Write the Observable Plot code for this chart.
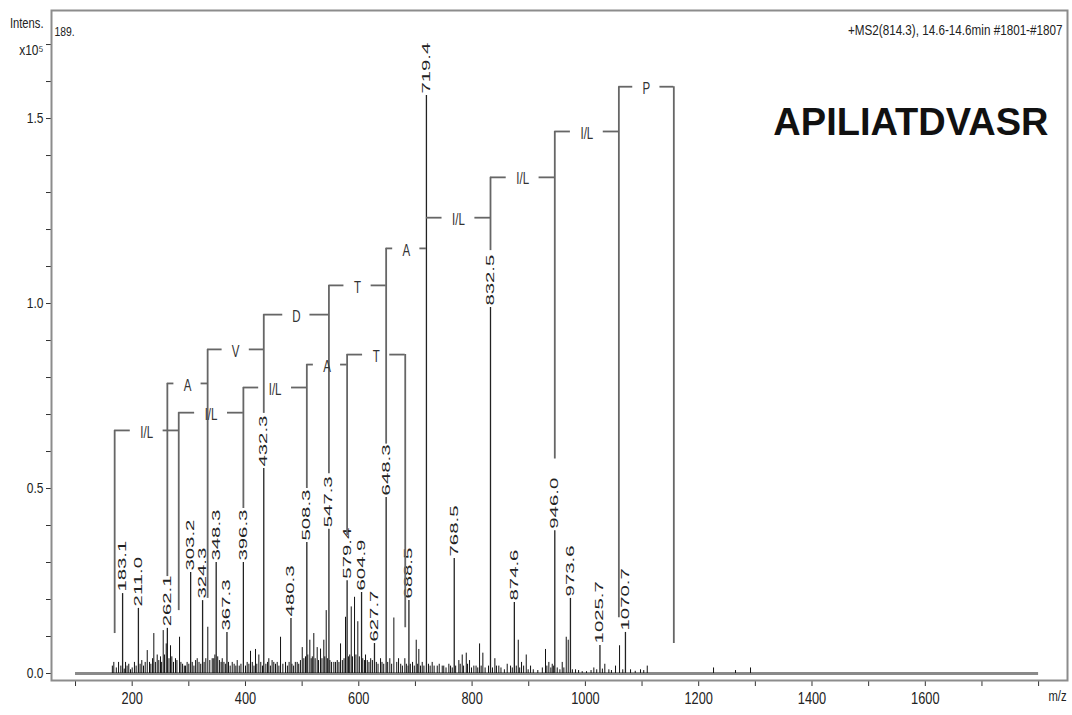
<!DOCTYPE html>
<html>
<head>
<meta charset="utf-8">
<script src="https://cdn.jsdelivr.net/npm/d3@7"></script>
<script src="https://cdn.jsdelivr.net/npm/@observablehq/plot@0.6"></script>
<style>
  html, body { margin: 0; padding: 0; background: #fff; }
  #chart svg { display: block; }
</style>
</head>
<body>
<div id="chart"></div>
<script>
// ---------- data (intensity in units of 10^5) ----------
const labeledMz  = [183.1, 211.0, 262.1, 303.2, 324.3, 348.3, 367.3, 396.3, 432.3, 480.3, 508.3, 547.3, 579.4, 604.9, 627.7, 648.3, 688.5, 719.4, 768.5, 832.5, 874.6, 946.0, 973.6, 1025.7, 1070.7];
const labeledInt = [0.216, 0.176, 0.122, 0.273, 0.197, 0.300, 0.111, 0.300, 0.554, 0.149, 0.354, 0.390, 0.251, 0.219, 0.081, 0.476, 0.197, 1.562, 0.311, 0.989, 0.192, 0.386, 0.203, 0.076, 0.111];

// secondary (unlabelled) peaks: [m/z, intensity]
const minorPeaks = [
  [167.6,0.030],[188.3,0.030],[197.1,0.010],[226.6,0.062],[230.6,0.030],[238.2,0.108],[244.2,0.050],[254.8,0.116],
  [260.1,0.080],[267.7,0.075],[276.5,0.040],[283.6,0.098],[294.2,0.020],[314.8,0.040],[333.5,0.125],[341.3,0.040],
  [359.0,0.040],[376.6,0.030],[385.4,0.035],[408.9,0.060],[417.7,0.065],[423.6,0.050],[441.2,0.040],[450.0,0.030],
  [461.9,0.098],[470.7,0.030],[491.3,0.030],[500.2,0.070],[513.6,0.090],[520.6,0.108],[526.6,0.070],[532.5,0.066],
  [538.3,0.090],[542.5,0.170],[556.0,0.030],[567.8,0.080],[576.6,0.152],[586.7,0.180],[592.5,0.206],[598.3,0.140],
  [611.9,0.050],[638.4,0.040],[654.8,0.040],[661.9,0.150],[670.2,0.040],[681.3,0.040],[694.9,0.030],[701.4,0.090],
  [706.0,0.065],[712.0,0.030],[729.6,0.030],[738.5,0.020],[747.3,0.020],[759.0,0.025],[776.6,0.035],[782.6,0.050],
  [789.7,0.055],[795.5,0.035],[803.1,0.020],[813.2,0.080],[819.0,0.055],[840.2,0.040],[847.2,0.020],[862.0,0.025],
  [867.9,0.020],[881.5,0.090],[887.3,0.030],[895.6,0.050],[903.2,0.020],[929.6,0.065],[935.5,0.030],[941.5,0.025],
  [950.3,0.015],[959.1,0.030],[966.2,0.098],[969.7,0.090],[982.6,0.010],[994.4,0.005],[1014.9,0.015],[1034.3,0.025],
  [1041.4,0.010],[1053.2,0.020],[1060.3,0.075],[1079.7,0.010],[1097.3,0.010],[1109.2,0.020],[1226.2,0.015],[1265.0,0.008],
  [1291.5,0.015]
];

// low-level chemical noise ("grass"): [m/z, intensity]
const grassPeaks = [
  [165,0.020],[172,0.015],[176,0.030],[180,0.020],[186,0.012],[191,0.020],[194,0.025],[200,0.015],[204,0.030],[207,0.020],
  [214,0.025],[217,0.035],[220,0.020],[223,0.030],[233,0.025],[236,0.040],[241,0.030],[247,0.035],[250,0.045],[252,0.030],
  [257,0.050],[265,0.040],[270,0.045],[273,0.030],[279,0.035],[286,0.030],[289,0.025],[292,0.020],[297,0.030],[300,0.025],
  [306,0.030],[309,0.020],[312,0.035],[318,0.030],[321,0.025],[327,0.030],[330,0.040],[337,0.035],[344,0.040],[346,0.050],
  [351,0.045],[354,0.035],[357,0.030],[362,0.030],[365,0.025],[370,0.030],[373,0.020],[380,0.025],[383,0.020],[389,0.020],
  [392,0.025],[400,0.020],[403,0.030],[406,0.025],[412,0.030],[415,0.020],[420,0.025],[427,0.030],[430,0.020],[436,0.025],
  [439,0.030],[444,0.020],[447,0.035],[453,0.025],[456,0.030],[459,0.020],[466,0.025],[474,0.020],[477,0.030],[482,0.025],
  [485,0.020],[488,0.030],[494,0.025],[497,0.035],[503,0.040],[506,0.045],[510,0.050],[516,0.040],[518,0.045],[523,0.040],
  [529,0.035],[535,0.040],[540,0.045],[545,0.040],[549,0.035],[552,0.030],[559,0.030],[562,0.035],[565,0.030],[571,0.035],
  [574,0.040],[582,0.045],[584,0.050],[589,0.045],[595,0.050],[601,0.045],[607,0.040],[610,0.035],[615,0.035],[618,0.030],
  [621,0.040],[624,0.035],[631,0.030],[634,0.025],[641,0.030],[644,0.025],[651,0.030],[658,0.025],[667,0.030],[674,0.025],
  [677,0.020],[684,0.025],[687,0.020],[691,0.025],[698,0.020],[704,0.025],[709,0.020],[715,0.020],[723,0.025],[726,0.020],
  [733,0.020],[742,0.025],[750,0.020],[754,0.015],[762,0.020],[765,0.015],[771,0.020],[779,0.025],[785,0.020],[792,0.025],
  [799,0.015],[807,0.020],[810,0.015],[816,0.020],[823,0.015],[829,0.020],[836,0.015],[843,0.020],[851,0.015],[857,0.010],
  [871,0.015],[878,0.020],[884,0.015],[891,0.020],[899,0.010],[908,0.010],[916,0.008],[924,0.015],[932,0.020],[939,0.015],
  [944,0.020],[955,0.010],[962,0.015],[977,0.010],[988,0.008],[1002,0.005],[1010,0.008],[1020,0.010],[1030,0.012],[1046,0.008],
  [1066,0.010],[1088,0.006],[1103,0.008]
];

// y-ion ladder (upper brackets)
const yIonBounds  = [262.1, 333.2, 432.3, 547.3, 648.3, 719.4, 832.5, 946.0, 1059.1, 1156.1];
const yIonLabels  = ["A", "V", "D", "T", "A", "I/L", "I/L", "I/L", "P"];
const yIonHeights = [0.784, 0.876, 0.970, 1.049, 1.149, 1.232, 1.341, 1.465, 1.586];
const yIonDrop    = [0.262, 0.203, 0.703, 0.540, 0.620, null, 1.143, 0.580, 0.151, 0.081];

// b-ion ladder (lower brackets)
const bIonBounds  = [169.1, 282.2, 396.3, 508.3, 579.4, 682.0];
const bIonLabels  = ["I/L", "I/L", "I/L", "A", "T"];
const bIonHeights = [0.657, 0.705, 0.773, 0.835, 0.862];
const bIonDrop    = [0.108, 0.170, 0.446, 0.500, 0.373, 0.124];

// axes
const xTicks = [100,200,300,400,500,600,700,800,900,1000,1100,1200,1300,1400,1500,1600,1700,1800];
const xTickLabels = [200,400,600,800,1000,1200,1400,1600];
const yTicks = [0,0.1,0.2,0.3,0.4,0.5,0.6,0.7,0.8,0.9,1.0,1.1,1.2,1.3,1.4,1.5,1.6,1.7];
const yTickLabels = [0, 0.5, 1.0, 1.5];

const peptide = "APILIATDVASR";
const scanInfo = "+MS2(814.3), 14.6-14.6min #1801-#1807";

// ---------- derived tables ----------
const labeled = labeledMz.map((mz, i) => ({mz, int: labeledInt[i], label: mz.toFixed(1)}));
const minor = minorPeaks.map(([mz, int]) => ({mz, int}));
const grass = grassPeaks.map(([mz, int]) => ({mz, int}));

function ladder(bounds, labels, heights, drops) {
  const verts = [], segs = [], labs = [];
  bounds.forEach((b, i) => {
    const top = i === 0 ? heights[0] : i === heights.length ? heights[heights.length - 1] : Math.max(heights[i - 1], heights[i]);
    if (drops[i] != null) verts.push({mz: b, top, bottom: drops[i]});
  });
  labels.forEach((lab, i) => {
    const a = bounds[i], b = bounds[i + 1], mid = (a + b) / 2;
    const half = lab.length > 1 ? 29 : 24;
    segs.push({x1: a, x2: mid - half, y: heights[i]});
    segs.push({x1: mid + half, x2: b, y: heights[i]});
    labs.push({mz: mid, y: heights[i], label: lab});
  });
  return {verts, segs, labs};
}
const yL = ladder(yIonBounds, yIonLabels, yIonHeights, yIonDrop);
const bL = ladder(bIonBounds, bIonLabels, bIonHeights, bIonDrop);
const verts = [...yL.verts, ...bL.verts];
const segs = [...yL.segs, ...bL.segs];
const bracketLabs = [...yL.labs, ...bL.labs];
const bracketSet = new Set([...yIonLabels, ...bIonLabels]);

const bracketColor = "#666";
const font = "'Liberation Sans', Arial, sans-serif";

const chart = Plot.plot({
  width: 1072,
  height: 715,
  marginLeft: 51,
  marginRight: 5,
  marginTop: 10,
  marginBottom: 35,
  style: {fontFamily: font, background: "#fff", color: "#222"},
  x: {domain: [57.6, 1851], label: null},
  y: {domain: [-0.0189, 1.792], label: null},
  marks: [
    // baseline
    Plot.ruleY([0], {x1: 100, x2: 1800, stroke: "#8a8a8a", strokeWidth: 3}),
    // spectrum
    Plot.ruleX(grass, {x: "mz", y1: 0, y2: "int", stroke: "#111", strokeWidth: 1}),
    Plot.ruleX(minor, {x: "mz", y1: 0, y2: "int", stroke: "#111", strokeWidth: 1}),
    Plot.ruleX(labeled, {x: "mz", y1: 0, y2: "int", stroke: "#222", strokeWidth: 1.3}),
    Plot.text(labeled, {x: "mz", y: "int", text: "label", rotate: -90, textAnchor: "start", dy: -2, fontSize: 11, fill: "#222"}),
    // sequence ladders
    Plot.ruleX(verts, {x: "mz", y1: "bottom", y2: "top", stroke: bracketColor, strokeWidth: 1.8}),
    Plot.ruleY(segs, {x1: "x1", x2: "x2", y: "y", stroke: bracketColor, strokeWidth: 1.8}),
    Plot.text(bracketLabs, {x: "mz", y: "y", text: "label", fontSize: 16, dy: 2, fill: "#333"}),
    // axes
    Plot.axisX({ticks: xTicks, tickSize: 6, tickPadding: 6, fontSize: 16, label: null, stroke: "#333",
      tickFormat: d => xTickLabels.includes(d) ? String(d) : ""}),
    Plot.axisY({ticks: yTicks, tickSize: 5, tickPadding: 3, fontSize: 15, label: null, stroke: "#333",
      tickFormat: d => yTickLabels.some(v => Math.abs(v - d) < 1e-9) ? d.toFixed(1) : ""}),
    Plot.frame({stroke: "#8c8c8c", strokeWidth: 2}),
    // annotations
    Plot.text(["Intens."], {frameAnchor: "top-left", textAnchor: "end", dx: -8, dy: 8, fontSize: 14, fill: "#222"}),
    Plot.text(["x10⁵"], {frameAnchor: "top-left", textAnchor: "end", dx: -8, dy: 34, fontSize: 15, fill: "#222"}),
    Plot.text(["189."], {frameAnchor: "top-left", textAnchor: "start", dx: 3, dy: 16, fontSize: 13, fill: "#222"}),
    Plot.text([scanInfo], {frameAnchor: "top-right", textAnchor: "end", dx: -5, dy: 14, fontSize: 14.6, fill: "#222"}),
    Plot.text(["m/z"], {frameAnchor: "bottom-right", textAnchor: "middle", dx: -10, dy: 20, fontSize: 14, fill: "#222"}),
    Plot.text([peptide], {frameAnchor: "top-right", textAnchor: "end", dx: -19, dy: 98, fontSize: 38, fontWeight: "bold", fill: "#111"})
  ]
});

// condensed / elongated glyphs like the instrument software's rendering
chart.querySelectorAll("text").forEach(t => {
  const tr = t.getAttribute("transform") || "";
  const txt = t.textContent.trim();
  let s = 0.8;
  if (tr.includes("rotate")) s = 1.85;          // peak m/z labels
  else if (bracketSet.has(txt)) s = 0.72;       // residue labels
  else if (txt === peptide) s = 1;              // peptide title
  if (s !== 1) t.setAttribute("transform", (tr + ` scale(${s},1)`).trim());
});

document.getElementById("chart").appendChild(chart);
</script>
</body>
</html>
